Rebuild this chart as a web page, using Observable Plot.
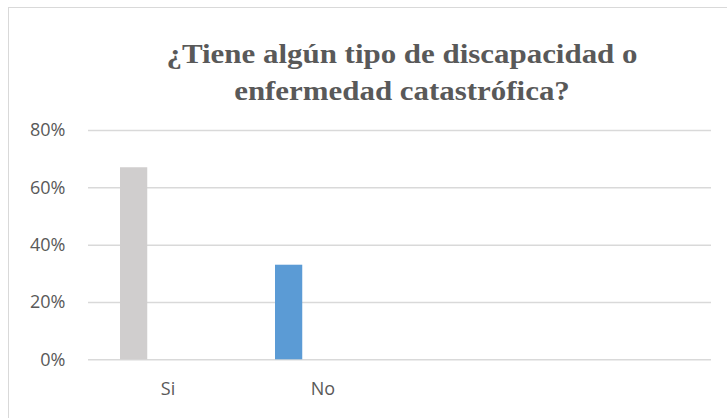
<!DOCTYPE html>
<html>
<head>
<meta charset="utf-8">
<script src="https://cdn.jsdelivr.net/npm/d3@7"></script>
<script src="https://cdn.jsdelivr.net/npm/@observablehq/plot@0.6"></script>
<style>
  html, body { margin: 0; padding: 0; background: #fff; overflow: hidden; }
  #wrap { position: relative; width: 727px; height: 418px; overflow: hidden; }
  #frame { position: absolute; left: 8px; top: 7px; width: 900px; height: 600px; border: 1.5px solid #d9d9d9; box-sizing: border-box; }
  #title { position: absolute; left: 0; top: 36px; width: 804px; text-align: center;
           font-family: "Liberation Serif", "DejaVu Serif", serif; font-weight: bold;
           font-size: 26.5px; line-height: 37px; color: #595959; transform-origin: 402px 0; }
  #title span { display: inline-block; white-space: nowrap; }
  #chart { position: absolute; left: 0; top: 0; }
</style>
</head>
<body>
<div id="wrap">
  <div id="frame"></div>
  <div id="chart"></div>
  <div id="title"><span id="t1">¿Tiene algún tipo de discapacidad o</span><br><span id="t2">enfermedad catastrófica?</span></div>
</div>
<script>
const categories = ["Si", "No", " ", "  "];
const barCategories = ["Si", "No"];
const values = [0.67, 0.33];
const colors = ["#D0CECE", "#5B9BD5"];
const yTicks = [0, 0.2, 0.4, 0.6, 0.8];

const data = barCategories.map((c, i) => ({cat: c, value: values[i]}));

const chart = Plot.plot({
  width: 727,
  height: 418,
  marginTop: 130,
  marginBottom: 58.7,
  marginLeft: 88,
  marginRight: 16,
  style: {background: "transparent", color: "#595959", fontFamily: "'Open Sans', sans-serif", fontSize: "18px"},
  x: {domain: categories, padding: 0},
  y: {domain: [0, 0.8]},
  color: {domain: barCategories, range: colors},
  marks: [
    Plot.gridY(yTicks, {stroke: "#d9d9d9", strokeOpacity: 1, strokeWidth: 1.5}),
    Plot.axisY(yTicks, {tickSize: 0, tickPadding: 23, tickFormat: d3.format(".0%"), fontSize: 18, fill: "#595959", label: null}),
    Plot.axisX({tickSize: 0, tickPadding: 22, fontSize: 18, fill: "#595959", label: null, tickFormat: d => d.trim()}),
    Plot.barY(data, {x: "cat", y: "value", fill: "cat", insetLeft: 30, insetRight: 97.75})
  ]
});
document.getElementById("chart").appendChild(chart);

// stretch the title horizontally to the reference's measured line width
const w1 = document.getElementById("t1").getBoundingClientRect().width;
if (w1 > 0) {
  document.getElementById("title").style.transform = `scaleX(${471 / w1})`;
}
</script>
</body>
</html>
